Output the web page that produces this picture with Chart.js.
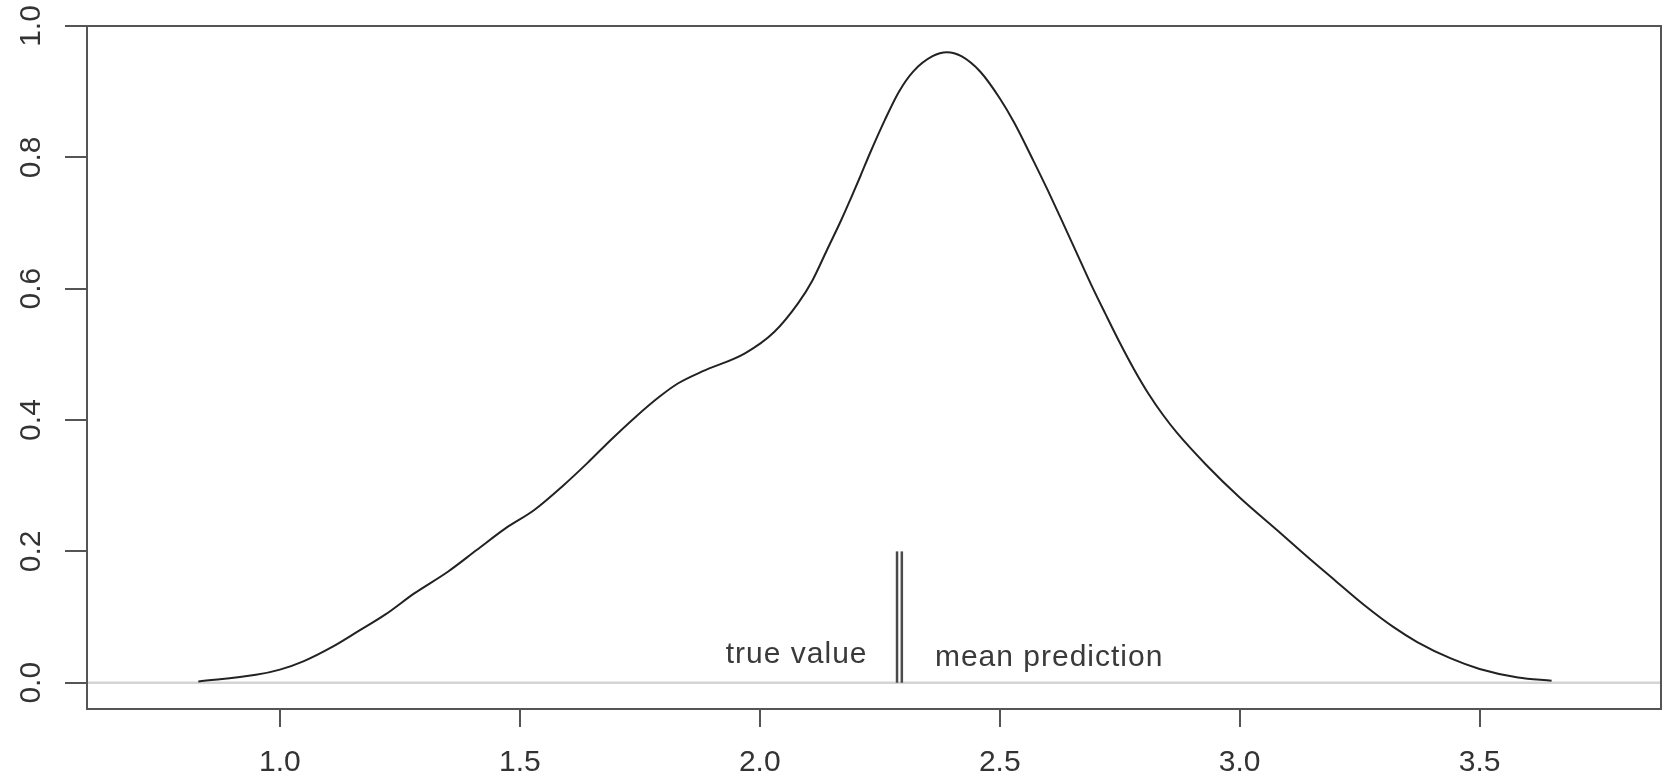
<!DOCTYPE html>
<html>
<head>
<meta charset="utf-8">
<script src="https://cdn.jsdelivr.net/npm/chart.js@4"></script>
<style>
  body { margin: 0; background: #fff; }
  canvas { display: block; }
</style>
</head>
<body>
<canvas id="densityChart" width="1663" height="777"></canvas>
<script>
// density curve
const densityX = [0.83, 0.95, 1.00, 1.05, 1.11, 1.16, 1.22, 1.28, 1.35, 1.41, 1.47, 1.53, 1.59, 1.64, 1.69, 1.74, 1.79, 1.83, 1.88, 1.97, 2.03, 2.08, 2.11, 2.14, 2.17, 2.19, 2.21, 2.23, 2.26, 2.29, 2.32, 2.36, 2.39, 2.42, 2.46, 2.50, 2.53, 2.57, 2.60, 2.63, 2.66, 2.69, 2.72, 2.75, 2.78, 2.81, 2.84, 2.87, 2.93, 3.00, 3.08, 3.15, 3.20, 3.26, 3.32, 3.37, 3.44, 3.50, 3.58, 3.65]
const densityY = [0.002, 0.012, 0.020, 0.033, 0.055, 0.077, 0.104, 0.136, 0.169, 0.202, 0.235, 0.263, 0.300, 0.334, 0.370, 0.404, 0.435, 0.456, 0.474, 0.502, 0.534, 0.578, 0.613, 0.659, 0.705, 0.738, 0.772, 0.807, 0.856, 0.900, 0.931, 0.954, 0.960, 0.954, 0.930, 0.890, 0.853, 0.795, 0.750, 0.703, 0.655, 0.607, 0.562, 0.518, 0.477, 0.440, 0.408, 0.380, 0.332, 0.282, 0.231, 0.186, 0.155, 0.118, 0.085, 0.062, 0.037, 0.021, 0.008, 0.003]

const trueValue = 2.286
const meanPrediction = 2.296
const markerTop = 0.2

const xTicks = [1.0, 1.5, 2.0, 2.5, 3.0, 3.5]
const yTicks = [0.0, 0.2, 0.4, 0.6, 0.8, 1.0]
const xRange = [0.598, 3.878]
const yRange = [-0.04, 1.0]

// text labels next to the markers: [text, x, y, align]
const labels = [
  ['true value', 2.2245, 0.030, 'right'],
  ['mean prediction', 2.365, 0.026, 'left']
]

const inkColor = '#333'
const boxColor = '#555'
const font = '"Liberation Sans", Arial, Helvetica, sans-serif'

const curvePoints = densityX.map((x, i) => ({ x, y: densityY[i] }))

// box round the plot, rotated y labels and the two text notes
const decorations = {
  id: 'decorations',
  afterDraw(chart) {
    const { ctx, chartArea: a, scales: { x, y } } = chart
    ctx.save()
    ctx.strokeStyle = boxColor
    ctx.lineWidth = 2
    ctx.strokeRect(a.left, a.top, a.right - a.left, a.bottom - a.top)

    ctx.fillStyle = inkColor
    ctx.font = '30px ' + font
    yTicks.forEach(v => {
      ctx.save()
      ctx.translate(40, y.getPixelForValue(v))
      ctx.rotate(-Math.PI / 2)
      ctx.textAlign = 'center'
      ctx.textBaseline = 'alphabetic'
      ctx.fillText(v.toFixed(1), 0, 0)
      ctx.restore()
    })

    ctx.fillStyle = '#3a3a3a'
    ctx.textBaseline = 'alphabetic'
    ctx.letterSpacing = '1px'
    labels.forEach(([text, lx, ly, align]) => {
      ctx.textAlign = align
      ctx.fillText(text, x.getPixelForValue(lx), y.getPixelForValue(ly))
    })
    ctx.restore()
  }
}

const densityChart = document.querySelector('#densityChart')
new Chart(densityChart, {
  type: 'scatter',
  data: {
    datasets: [
      {
        label: 'density',
        data: curvePoints,
        showLine: true,
        borderColor: '#222',
        borderWidth: 2,
        pointRadius: 0,
        cubicInterpolationMode: 'monotone'
      },
      {
        label: 'true value',
        data: [{ x: trueValue, y: 0 }, { x: trueValue, y: markerTop }],
        showLine: true,
        borderColor: '#4a4a4a',
        borderWidth: 2.5,
        pointRadius: 0
      },
      {
        label: 'mean prediction',
        data: [{ x: meanPrediction, y: 0 }, { x: meanPrediction, y: markerTop }],
        showLine: true,
        borderColor: '#4a4a4a',
        borderWidth: 2.5,
        pointRadius: 0
      },
      {
        label: 'zero',
        data: [{ x: xRange[0], y: 0 }, { x: xRange[1], y: 0 }],
        showLine: true,
        borderColor: '#d4d4d4',
        borderWidth: 2.5,
        pointRadius: 0
      }
    ]
  },
  options: {
    responsive: false,
    animation: false,
    events: [],
    layout: {
      padding: { top: 26, right: 2, left: 0, bottom: 0 }
    },
    plugins: {
      legend: { display: false },
      tooltip: { enabled: false }
    },
    scales: {
      x: {
        type: 'linear',
        min: xRange[0],
        max: xRange[1],
        afterBuildTicks: s => { s.ticks = xTicks.map(v => ({ value: v })) },
        afterFit: s => { s.height = 68 },
        border: { display: false },
        grid: {
          drawOnChartArea: false,
          drawTicks: true,
          tickLength: 18,
          color: boxColor,
          lineWidth: 2
        },
        ticks: {
          padding: 18,
          color: inkColor,
          font: { size: 30, family: font },
          maxRotation: 0,
          callback: v => v.toFixed(1)
        }
      },
      y: {
        type: 'linear',
        min: yRange[0],
        max: yRange[1],
        afterBuildTicks: s => { s.ticks = yTicks.map(v => ({ value: v })) },
        afterFit: s => { s.width = 87 },
        border: { display: false },
        grid: {
          drawOnChartArea: false,
          drawTicks: true,
          tickLength: 22,
          color: boxColor,
          lineWidth: 2
        },
        ticks: {
          color: 'transparent',
          font: { size: 30, family: font },
          callback: v => v.toFixed(1)
        }
      }
    }
  },
  plugins: [decorations]
})
</script>
</body>
</html>
